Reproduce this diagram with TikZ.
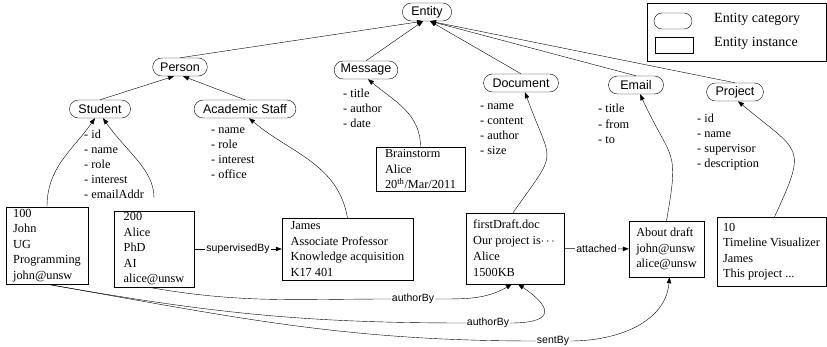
\documentclass[tikz,border=0pt]{standalone}
\usepackage{amsmath}
\usepackage{fontspec}
\setmainfont{Liberation Serif}
\setsansfont{Liberation Sans}
\usepackage{tikz}
\usetikzlibrary{arrows.meta}

\tikzset{
  cat/.style={draw, rounded corners=9pt, minimum height=18pt, inner xsep=9pt,
    inner ysep=0pt, font=\sffamily\fontsize{12.5}{14}\selectfont},
  inst/.style={draw, align=left, inner xsep=5pt, inner ysep=1pt,
    font=\fontsize{12.3}{15.5}\selectfont},
  attrs/.style={align=left, anchor=base west, inner sep=0pt,
    font=\fontsize{12.3}{15}\selectfont},
  rel/.style={-{Triangle[length=6pt,width=4.5pt]}},
  lbl/.style={fill=white, inner sep=1pt, font=\sffamily\fontsize{10.5}{12}\selectfont},
}

\begin{document}
\begin{tikzpicture}
\useasboundingbox (0,0) rectangle (827pt,-347pt);
\begin{scope}[x=1pt,y=1pt]
% categories
\node[cat] (ent) at (427,-12) {Entity};
\node[cat, inner xsep=7.5pt] (per) at (180,-67) {Person};
\node[cat, inner xsep=6.5pt] (msg) at (366,-70) {Message};
\node[cat] (stu) at (100,-109) {Student};
\node[cat] (acs) at (245,-109) {Academic Staff};
\node[cat] (doc) at (521,-83) {Document};
\node[cat, minimum width=55pt] (eml) at (636,-85) {Email};
\node[cat] (prj) at (735,-92) {Project};

% attributes (placed by the baseline of the last line)
\node[attrs] (stuatt) at (84,-199) {- id\\- name\\- role\\- interest\\- emailAddr};
\node[attrs] (acsatt) at (211,-179) {- name\\- role\\- interest\\- office};
\node[attrs] (msgatt) at (343,-128) {- title\\- author\\- date};
\node[attrs] (docatt) at (480,-155) {- name\\- content\\- author\\- size};
\node[attrs, font=\fontsize{12.3}{15.5}\selectfont] (emlatt) at (598,-144) {- title\\- from\\- to};
\node[attrs] (prjatt) at (697,-168) {- id\\- name\\- supervisor\\- description};

% instances
\node[inst, minimum width=82pt, minimum height=77pt] (i100) at (47,-245.5)
  {100\\John\\UG\\Programming\\john@unsw};
\node[inst, minimum width=80pt, minimum height=76pt] (i200) at (154,-249)
  {200\\Alice\\PhD\\AI\\alice@unsw};
\node[inst, minimum width=131pt, minimum height=62pt] (ijam) at (347.5,-249)
  {James\\Associate Professor\\Knowledge acquisition\\K17 401};
\node[inst, minimum width=89pt, minimum height=44pt] (ibrn) at (420.5,-169)
  {Brainstorm\\Alice\\20\textsuperscript{th}/Mar/2011};
\node[inst, minimum width=98pt, minimum height=71pt, font=\fontsize{12.3}{16}\selectfont] (idrf) at (515,-248.5)
  {firstDraft.doc\\Our project is$\cdots$\\Alice\\1500KB};
\node[inst, minimum width=75pt, minimum height=56pt] (imal) at (666.5,-249)
  {About draft\\john@unsw\\alice@unsw};
\node[inst, minimum width=109pt, minimum height=69pt] (iprj) at (771.5,-251.5)
  {10\\Timeline Visualizer\\James\\This project ...};

% legend
\draw (647,-3) rectangle (826,-61);
\node[draw, rounded corners=8pt, minimum width=38pt, minimum height=16pt] (lgcat) at (673,-21) {};
\node[draw, minimum width=38pt, minimum height=16pt] (lginst) at (674,-45) {};
\node[anchor=west, inner sep=0pt, font=\fontsize{14}{16}\selectfont] (lgcattxt) at (714,-19) {Entity category};
\node[anchor=west, inner sep=0pt, font=\fontsize{14}{16}\selectfont] (lginsttxt) at (714,-43) {Entity instance};

% hierarchy
\draw[rel] (per.north) -- ([xshift=-4pt]ent.south);
\draw[rel] (msg.north) -- ([xshift=-4pt]ent.south);
\draw[rel] (doc.north) -- ([xshift=3pt]ent.south);
\draw[rel] (eml.north) -- ([xshift=3pt]ent.south);
\draw[rel] (prj.north) -- ([xshift=3pt]ent.south);
\draw[rel] (stu.north) -- ([xshift=-6pt]per.south);
\draw[rel] (acs.north) -- ([xshift=3pt]per.south);

% instance of
\draw[rel] (i100.north) to[out=90,in=-125] ([xshift=-5pt]stu.south);
\draw[rel, shorten <=13pt] (i200.north) to[out=90,in=-55] ([xshift=3pt]stu.south);
\draw[rel] (ijam.north) to[out=100,in=-40] ([xshift=4pt]acs.south);
\draw[rel] (ibrn.north) to[out=90,in=-40] ([xshift=2pt]msg.south);
\draw[rel] ([xshift=-2pt]idrf.north) to[out=55,in=-70, looseness=1.7] ([xshift=4pt]doc.south);
\draw[rel] (imal.north) to[out=80,in=-65, looseness=1.5] ([xshift=4pt]eml.south);
\draw[rel] ([xshift=3pt]iprj.north) to[out=65,in=-40, looseness=1.7] ([xshift=3pt]prj.south);

% relations
\draw[rel] (i200) -- node[lbl] {supervisedBy} (ijam);
\draw[rel] (idrf) -- node[lbl] {attached} (imal);
\node[lbl] (ab1) at (413,-299) {authorBy};
\node[lbl] (ab2) at (488,-323) {authorBy};
\node[lbl] (snt) at (553,-341) {sentBy};
\draw ([xshift=-6pt]i200.south) to[out=-10,in=180] (ab1.west);
\draw[rel] (ab1.east) to[out=0,in=-150] ([xshift=-3pt]idrf.south);
\draw (i100.south) to[out=-10,in=180] (ab2.west);
\draw[rel] (ab2.east) .. controls +(50,0) and +(30,-20) .. ([xshift=3pt]idrf.south);
\draw (i100.south) to[out=-10,in=180] (snt.west);
\draw[rel] (snt.east) to[out=0,in=-95] ([xshift=3pt]imal.south);
\end{scope}
\end{tikzpicture}
\end{document}
